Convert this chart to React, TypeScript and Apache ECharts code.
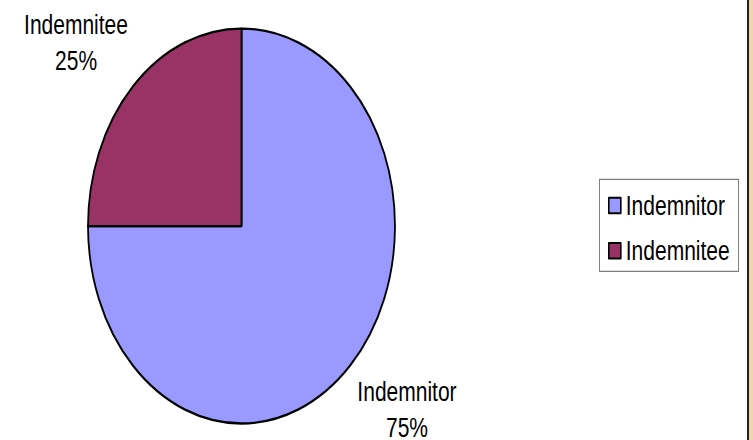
import React, { useEffect, useRef } from 'react';
import * as echarts from 'echarts';

const categories = ['Indemnitor', 'Indemnitee'];
const values = [75, 25];
const colors = ['#9999FF', '#993366'];

const FONT = "'Liberation Sans', Arial, sans-serif";
const W = 753;
const H = 342; // drawn height, stretched vertically to 440 like the reference
const S = 440 / H;

export default function App() {
  const ref = useRef<HTMLDivElement>(null);
  useEffect(() => {
    const chart = echarts.init(ref.current!, null, { renderer: 'svg', width: W, height: H });
    const total = values.reduce((a, b) => a + b, 0);
    const cx = 241.5, cy = 175.7, r = 153.5;
    const mids: number[] = [];
    let acc = -Math.PI / 2;
    values.forEach((v) => {
      const span = (v / total) * Math.PI * 2;
      mids.push(acc + span / 2);
      acc += span;
    });

    chart.setOption({
      animation: false,
      backgroundColor: '#fff',
      color: colors,
      legend: {
        data: categories,
        orient: 'vertical',
        left: 608,
        top: 149.2,
        padding: 0,
        itemWidth: 12,
        itemHeight: 12,
        itemGap: 14.2,
        icon: 'rect',
        itemStyle: { borderColor: '#000', borderWidth: 1.6 },
        textStyle: { color: '#000', fontSize: 21, fontFamily: FONT, lineHeight: 21 },
        selectedMode: false,
      },
      graphic: [
        {
          type: 'rect',
          shape: { x: 599.5, y: 139.5, width: 139, height: 71.5 },
          style: { fill: 'none', stroke: '#808080', lineWidth: 1 },
        },
        {
          type: 'rect',
          shape: { x: 747, y: 0, width: 2, height: H },
          style: { fill: '#222' },
        },
        {
          type: 'rect',
          shape: { x: 749, y: 0, width: 4, height: H },
          style: { fill: '#F0D4AC' },
        },
      ],
      series: [
        {
          type: 'pie',
          center: [cx, cy],
          radius: r,
          startAngle: 90,
          clockwise: true,
          data: categories.map((name, i) => ({ name, value: values[i] })),
          itemStyle: { borderColor: '#000', borderWidth: 1.8 },
          label: {
            show: true,
            position: 'outside',
            formatter: '{b}\n{d}%',
            color: '#000',
            fontSize: 21,
            fontFamily: FONT,
            lineHeight: 28,
            overflow: 'none',
          },
          labelLine: { show: false },
          labelLayout: (params: any) => {
            const m = mids[params.dataIndex];
            return {
              x: cx + (r + 80.5) * Math.cos(m),
              y: cy + (r + 48) * Math.sin(m),
              align: 'center',
              verticalAlign: 'middle',
            };
          },
          emphasis: { disabled: true },
        },
      ],
    } as any);
    return () => chart.dispose();
  }, []);
  return (
    <div
      ref={ref}
      style={{
        position: 'fixed',
        left: 0,
        top: 0,
        width: W,
        height: H,
        transform: `scaleY(${S})`,
        transformOrigin: '0 0',
      }}
    />
  );
}
